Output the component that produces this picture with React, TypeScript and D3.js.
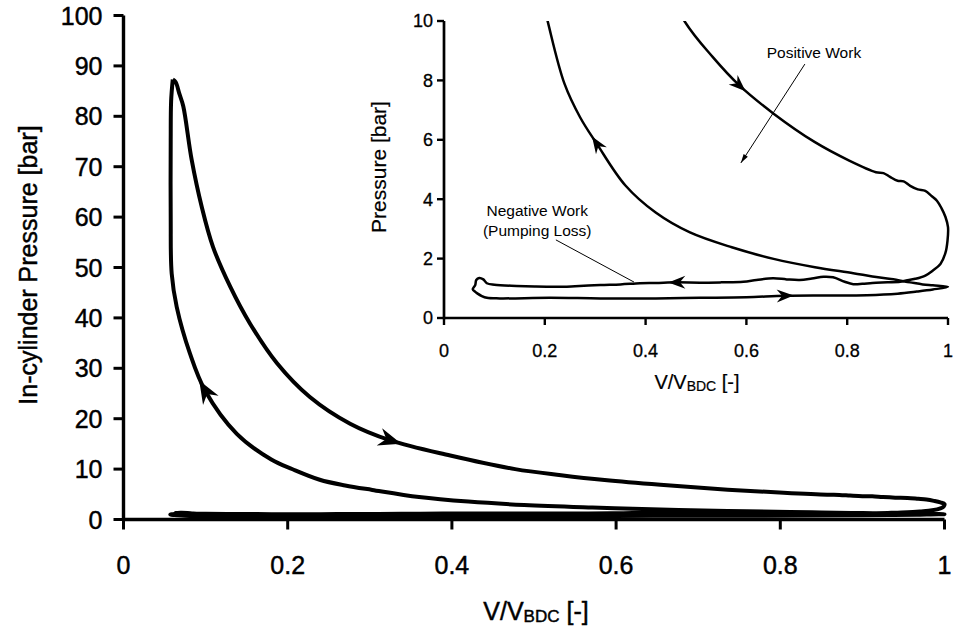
import React from "react";
import * as d3 from "d3";

// ---------- data (V/V_BDC, pressure in bar), in cycle order ----------
// expansion stroke from peak pressure down to BDC, incl. blowdown
const expansionV = [0.06, 0.0635, 0.068, 0.0728, 0.083, 0.0952, 0.109, 0.13, 0.154, 0.187, 0.227, 0.276, 0.325, 0.398, 0.477, 0.533, 0.586, 0.654, 0.736, 0.804, 0.857, 0.872, 0.885, 0.9, 0.912, 0.925, 0.94, 0.955, 0.968, 0.978, 0.987, 0.995, 1.0, 0.999, 0.995, 0.985, 0.97, 0.955, 0.935, 0.917];
const expansionP = [87.3, 86.8, 84.5, 82.0, 71.4, 62.1, 54.1, 46.2, 38.9, 31.0, 24.3, 19.0, 15.7, 12.7, 10.0, 8.79, 7.83, 6.88, 5.92, 5.3, 4.91, 4.88, 4.75, 4.62, 4.6, 4.45, 4.33, 4.28, 4.1, 3.95, 3.7, 3.4, 3.06, 2.6, 2.2, 1.82, 1.6, 1.43, 1.32, 1.26];
// exhaust stroke (BDC -> TDC) and valve-overlap loop
const exhaustV = [0.905, 0.88, 0.85, 0.83, 0.812, 0.795, 0.772, 0.753, 0.73, 0.706, 0.68, 0.653, 0.62, 0.594, 0.55, 0.508, 0.462, 0.42, 0.389, 0.35, 0.31, 0.26, 0.224, 0.18, 0.144, 0.1, 0.085, 0.078, 0.07, 0.064, 0.062, 0.057, 0.062, 0.066, 0.075, 0.085];
const exhaustP = [1.22, 1.2, 1.18, 1.15, 1.14, 1.22, 1.37, 1.39, 1.33, 1.28, 1.3, 1.34, 1.28, 1.22, 1.2, 1.19, 1.2, 1.18, 1.17, 1.13, 1.11, 1.07, 1.05, 1.06, 1.08, 1.12, 1.17, 1.3, 1.35, 1.28, 1.11, 0.97, 0.88, 0.83, 0.74, 0.68];
// intake stroke (TDC -> BDC)
const intakeV = [0.111, 0.21, 0.31, 0.42, 0.508, 0.6, 0.677, 0.76, 0.839, 0.9, 0.938, 0.97, 1.0];
const intakeP = [0.66, 0.68, 0.66, 0.66, 0.68, 0.7, 0.75, 0.76, 0.77, 0.82, 0.89, 0.96, 1.05];
// compression stroke (BDC -> TDC) and combustion
const compressionV = [0.97, 0.95, 0.925, 0.887, 0.85, 0.812, 0.736, 0.654, 0.571, 0.488, 0.42, 0.36, 0.303, 0.27, 0.239, 0.206, 0.18, 0.138, 0.0993, 0.081, 0.0648, 0.0587, 0.0575, 0.0575, 0.058, 0.06];
const compressionP = [1.1, 1.13, 1.2, 1.31, 1.4, 1.51, 1.71, 1.99, 2.38, 2.88, 3.55, 4.46, 5.87, 6.76, 7.89, 9.97, 11.9, 17.0, 25.6, 32.9, 42.2, 48.8, 60.0, 75.3, 83.0, 87.3];

// direction arrows (segment, V position)
const mainArrowSeg = ["compression", "expansion"];
const mainArrowV = [0.0993, 0.325];
const insetArrowSeg = ["expansion", "compression", "exhaust", "intake"];
const insetArrowV = [0.586, 0.303, 0.462, 0.677];

// ticks
const mainXTicks = [0, 0.2, 0.4, 0.6, 0.8, 1];
const mainYTicks = [0, 10, 20, 30, 40, 50, 60, 70, 80, 90, 100];
const insetXTicks = [0, 0.2, 0.4, 0.6, 0.8, 1];
const insetYTicks = [0, 2, 4, 6, 8, 10];

// annotations in inset data units
const annoText = ["Positive Work", "Negative Work", "(Pumping Loss)"];
const annoV = [0.734, 0.185, 0.185];
const annoP = [8.75, 3.42, 2.76];
const pointerFromV = [0.716, 0.222];
const pointerFromP = [8.55, 2.63];
const pointerToV = [0.589, 0.377];
const pointerToP = [5.22, 1.21];
const pointerHead = [true, false];

const FONT = "'Liberation Sans', Arial, Helvetica, sans-serif";

const zip = (v: number[], p: number[]) => v.map((x, i) => [x, p[i]] as [number, number]);
const segs: Record<string, [number, number][]> = {
  expansion: zip(expansionV, expansionP),
  exhaust: zip(exhaustV, exhaustP),
  intake: zip(intakeV, intakeP),
  compression: zip(compressionV, compressionP),
};
const cycle = [...segs.expansion, ...segs.exhaust, ...segs.intake, ...segs.compression];

const mx = d3.scaleLinear().domain([0, 1]).range([123.5, 944.5]);
const my = d3.scaleLinear().domain([0, 100]).range([519.5, 15.5]);
const ix = d3.scaleLinear().domain([0, 1]).range([444, 948]);
const iy = d3.scaleLinear().domain([0, 10]).range([318, 21]);

type Sc = d3.ScaleLinear<number, number>;

function arrowPath(sx: Sc, sy: Sc, seg: string, v: number, L: number, Wd: number) {
  const pts = segs[seg];
  let best = 0;
  let bd = Infinity;
  pts.forEach((p, i) => {
    const d = Math.abs(p[0] - v);
    if (d < bd) { bd = d; best = i; }
  });
  const a = pts[Math.max(0, best - 1)];
  const b = pts[Math.min(pts.length - 1, best + 1)];
  const ang = Math.atan2(sy(b[1]) - sy(a[1]), sx(b[0]) - sx(a[0]));
  const cx = sx(pts[best][0]);
  const cy = sy(pts[best][1]);
  const local: [number, number][] = [[L / 2, 0], [-L / 2, -Wd / 2], [-L / 2 + L * 0.32, 0], [-L / 2, Wd / 2]];
  const c = Math.cos(ang), s = Math.sin(ang);
  return "M" + local.map(([x, y]) => `${cx + x * c - y * s},${cy + x * s + y * c}`).join("L") + "Z";
}

export default function App() {
  const mainLine = d3.line<[number, number]>().x(d => mx(d[0])).y(d => my(d[1])).curve(d3.curveCatmullRom.alpha(0.5));
  const insetLine = d3.line<[number, number]>().x(d => ix(d[0])).y(d => iy(d[1])).curve(d3.curveCatmullRom.alpha(0.5));
  const cyc = [...cycle, cycle[0]];
  const txtStroke = { stroke: "#000", strokeWidth: 0.45 };

  return (
    <div style={{ position: "absolute", left: 0, top: 0 }}>
      <svg width={954} height={630} style={{ display: "block", background: "#fff" }} fontFamily={FONT}>
        <rect x={0} y={0} width={954} height={630} fill="#fff" />
        <defs>
          <clipPath id="insetClip">
            <rect x={ix(0)} y={iy(10)} width={954 - ix(0)} height={iy(0) - iy(10) + 4} />
          </clipPath>
        </defs>

        {/* ---------------- main chart ---------------- */}
        <path d={mainLine(cyc) || ""} fill="none" stroke="#000" strokeWidth={4} strokeLinejoin="round" />
        {mainArrowSeg.map((s, i) => (
          <path key={"ma" + i} d={arrowPath(mx, my, s, mainArrowV[i], 23, 18)} fill="#000" />
        ))}
        {/* axes */}
        <line x1={mx(0)} x2={mx(0)} y1={my(0) + 1.5} y2={my(100)} stroke="#000" strokeWidth={3.4} />
        <line x1={mx(0)} x2={mx(1)} y1={my(0)} y2={my(0)} stroke="#000" strokeWidth={3.4} />
        {mainYTicks.map(t => (
          <g key={"my" + t}>
            <line x1={mx(0) - 10} x2={mx(0)} y1={my(t)} y2={my(t)} stroke="#000" strokeWidth={3} />
            <text x={mx(0) - 21} y={my(t)} dy="0.36em" textAnchor="end" fontSize={25} {...txtStroke}>{t}</text>
          </g>
        ))}
        {mainXTicks.map(t => (
          <g key={"mx" + t}>
            <line x1={mx(t)} x2={mx(t)} y1={my(0)} y2={my(0) + 10} stroke="#000" strokeWidth={3} />
            <text x={mx(t)} y={574} textAnchor="middle" fontSize={25} {...txtStroke}>{t}</text>
          </g>
        ))}
        <text x={536} y={620} textAnchor="middle" fontSize={25} {...txtStroke}>
          V/V<tspan fontSize={17} dy={2}>BDC</tspan><tspan dy={-2}> [-]</tspan>
        </text>
        <text transform="translate(37,265) rotate(-90)" textAnchor="middle" fontSize={25} {...txtStroke}>In-cylinder Pressure [bar]</text>

        {/* ---------------- inset chart ---------------- */}
        <g clipPath="url(#insetClip)">
          <path d={insetLine(cyc) || ""} fill="none" stroke="#000" strokeWidth={2.5} strokeLinejoin="round" />
        </g>
        {insetArrowSeg.map((s, i) => (
          <path key={"ia" + i} d={arrowPath(ix, iy, s, insetArrowV[i], 17, 13)} fill="#000" />
        ))}
        <line x1={ix(0)} x2={ix(0)} y1={iy(0) + 1.3} y2={iy(10)} stroke="#000" strokeWidth={2.7} />
        <line x1={ix(0)} x2={ix(1)} y1={iy(0)} y2={iy(0)} stroke="#000" strokeWidth={2.7} />
        {insetYTicks.map(t => (
          <g key={"iy" + t}>
            <line x1={ix(0) - 7} x2={ix(0)} y1={iy(t)} y2={iy(t)} stroke="#000" strokeWidth={2.4} />
            <text x={ix(0) - 11} y={iy(t)} dy="0.36em" textAnchor="end" fontSize={18} stroke="#000" strokeWidth={0.3}>{t}</text>
          </g>
        ))}
        {insetXTicks.map(t => (
          <g key={"ix" + t}>
            <line x1={ix(t)} x2={ix(t)} y1={iy(0)} y2={iy(0) + 7} stroke="#000" strokeWidth={2.4} />
            <text x={ix(t)} y={357} textAnchor="middle" fontSize={18} stroke="#000" strokeWidth={0.3}>{t}</text>
          </g>
        ))}
        <text x={697} y={389} textAnchor="middle" fontSize={20} stroke="#000" strokeWidth={0.2}>
          V/V<tspan fontSize={14} dy={2}>BDC</tspan><tspan dy={-2}> [-]</tspan>
        </text>
        <text transform="translate(386,167) rotate(-90)" textAnchor="middle" fontSize={21} stroke="#000" strokeWidth={0.2}>Pressure [bar]</text>

        {/* annotations */}
        {annoText.map((t, i) => (
          <text key={"an" + i} x={ix(annoV[i])} y={iy(annoP[i])} textAnchor="middle" fontSize={15.5}>{t}</text>
        ))}
        {pointerFromV.map((v, i) => {
          const x1 = ix(v), y1 = iy(pointerFromP[i]), x2 = ix(pointerToV[i]), y2 = iy(pointerToP[i]);
          const ang = Math.atan2(y2 - y1, x2 - x1);
          const L = 9, Wd = 5;
          const c = Math.cos(ang), s = Math.sin(ang);
          const head: [number, number][] = [[0, 0], [-L, -Wd / 2], [-L, Wd / 2]];
          const hd = "M" + head.map(([x, y]) => `${x2 + x * c - y * s},${y2 + x * s + y * c}`).join("L") + "Z";
          return (
            <g key={"pt" + i}>
              <line x1={x1} y1={y1} x2={x2} y2={y2} stroke="#000" strokeWidth={1} />
              {pointerHead[i] && <path d={hd} fill="#000" />}
            </g>
          );
        })}
      </svg>
    </div>
  );
}
